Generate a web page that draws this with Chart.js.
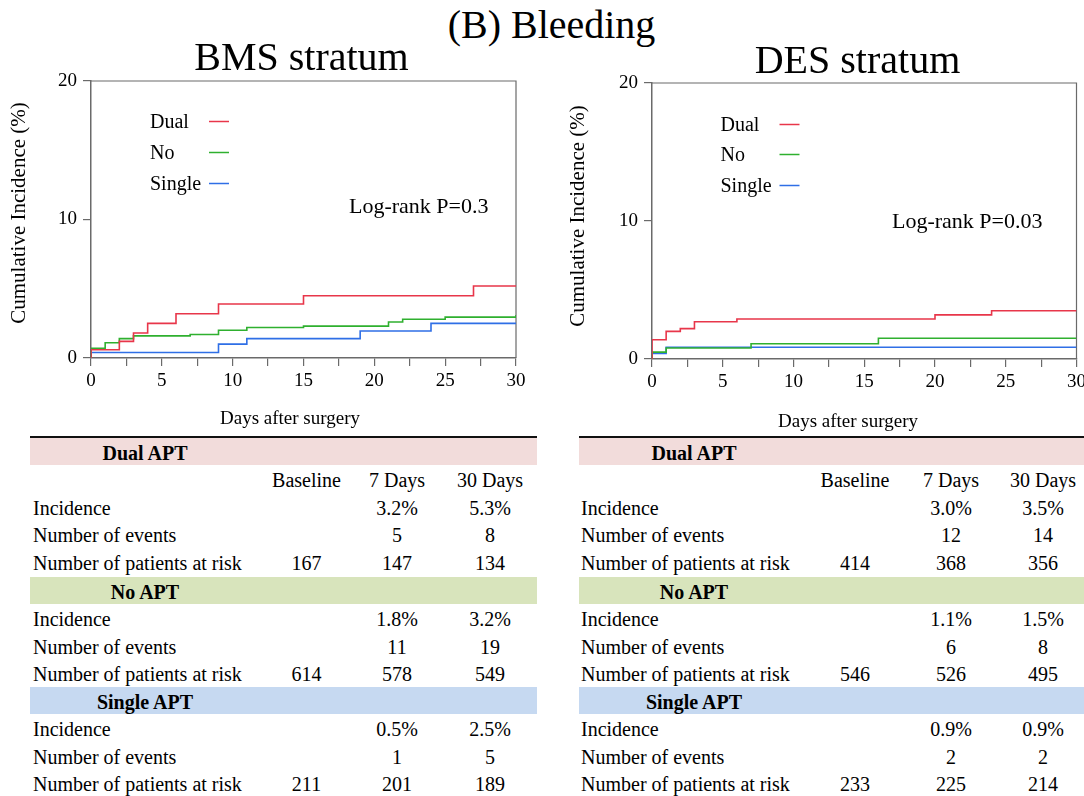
<!DOCTYPE html>
<html>
<head>
<meta charset="utf-8">
<script src="https://cdn.jsdelivr.net/npm/chart.js@4.4.1/dist/chart.umd.min.js"></script>
<style>
  html, body { margin: 0; padding: 0; background: #fff; }
  body { width: 1084px; height: 796px; position: relative; overflow: hidden;
         font-family: "Liberation Serif", "Times New Roman", serif; color: #000; }
  .txt { position: absolute; white-space: nowrap; }
  canvas { position: absolute; }
  .bar { position: absolute; height: 27px; }
  .rule { position: absolute; height: 2.5px; background: #111; }
</style>
</head>
<body>
<canvas id="bms" width="540" height="380" style="left:0px;top:60px;width:540px;height:380px"></canvas>
<canvas id="des" width="524" height="380" style="left:560px;top:60px;width:524px;height:380px"></canvas>
<div id="overlay"></div>
<script>
// ---------------- DATA ----------------
const mainTitle = '(B) Bleeding';
const panelTitles = ['BMS stratum', 'DES stratum'];
const seriesNames = ['Dual', 'No', 'Single'];
const xTickLabels = ['0', '5', '10', '15', '20', '25', '30'];
const yTickLabels = ['0', '10', '20'];
const xAxisTitle = 'Days after surgery';
const yAxisTitle = 'Cumulative Incidence (%)';
const pValues = ['Log-rank P=0.3', 'Log-rank P=0.03'];

// BMS stratum step curves (day of step, cumulative incidence %)
const bmsDualDays   = [0, 0,   2,   3,   4,   6,   9,   15,  27,  30];
const bmsDualInc    = [0, 0.6, 1.2, 1.8, 2.5, 3.2, 3.9, 4.5, 5.2, 5.2];
const bmsNoDays     = [0, 0,   1,   2,   3,   7,   9,   11,  15,  21,  22,  25,  30];
const bmsNoInc      = [0, 0.7, 1.1, 1.4, 1.6, 1.7, 2.0, 2.2, 2.3, 2.6, 2.8, 2.95, 3.1];
const bmsSingleDays = [0, 0,   9,   11,  19,  24,  30];
const bmsSingleInc  = [0, 0.4, 1.0, 1.4, 1.95, 2.5, 2.5];

// DES stratum step curves
const desDualDays   = [0, 0,   1,   2,   3,   6,   20,  24,  30];
const desDualInc    = [0, 1.4, 2.0, 2.2, 2.7, 2.9, 3.2, 3.5, 3.5];
const desNoDays     = [0, 0,   1,   7,   16,  30];
const desNoInc      = [0, 0.5, 0.8, 1.1, 1.5, 1.5];
const desSingleDays = [0, 0,   1,   30];
const desSingleInc  = [0, 0.4, 0.85, 0.85];

// Tables
const groupNames = ['Dual APT', 'No APT', 'Single APT'];
const colLabels = ['Baseline', '7 Days', '30 Days'];
const rowLabels = ['Incidence', 'Number of events', 'Number of patients at risk'];
const bmsIncidence = [['', '3.2%', '5.3%'], ['', '1.8%', '3.2%'], ['', '0.5%', '2.5%']];
const bmsEvents    = [['', '5', '8'],       ['', '11', '19'],     ['', '1', '5']];
const bmsAtRisk    = [['167', '147', '134'], ['614', '578', '549'], ['211', '201', '189']];
const desIncidence = [['', '3.0%', '3.5%'], ['', '1.1%', '1.5%'], ['', '0.9%', '0.9%']];
const desEvents    = [['', '12', '14'],     ['', '6', '8'],       ['', '2', '2']];
const desAtRisk    = [['414', '368', '356'], ['546', '526', '495'], ['233', '225', '214']];

// ---------------- STYLE ----------------
const SERIF = '"Liberation Serif", "Times New Roman", serif';
const colors = ['#e8364a', '#2fb02f', '#2f6fe6'];
const axisColor = '#6a6a6a';
const barColors = ['#f2dcdb', '#d8e4bc', '#c6d9f1'];

// ---------------- HTML TEXT ----------------
const overlay = document.getElementById('overlay');
function addText(text, x, baseline, size, opts = {}) {
  const d = document.createElement('div');
  d.className = 'txt';
  d.textContent = text;
  d.style.fontSize = size + 'px';
  d.style.lineHeight = size + 'px';
  d.style.top = (baseline - 0.8375 * size) + 'px';
  if (opts.bold) d.style.fontWeight = 'bold';
  d.style.left = x + 'px';
  if (opts.align === 'center') d.style.transform = 'translateX(-50%)';
  overlay.appendChild(d);
  return d;
}
function addBox(cls, x, y, w, h, color) {
  const d = document.createElement('div');
  d.className = cls;
  d.style.left = x + 'px'; d.style.top = y + 'px';
  d.style.width = w + 'px'; d.style.height = h + 'px';
  if (color) d.style.background = color;
  overlay.appendChild(d);
}

addText(mainTitle, 551.5, 38, 40, { align: 'center' });
addText(panelTitles[0], 301.5, 70.5, 40, { align: 'center' });
addText(panelTitles[1], 857.5, 73, 40, { align: 'center' });

function buildTable(x0, x1, labelX, groupCX, colCX, incid, events, atRisk) {
  addBox('rule', x0, 436, x1 - x0, 2.5);
  const barTops = [438, 577, 687];
  for (let g = 0; g < 3; g++) {
    const top = barTops[g];
    addBox('bar', x0, top, x1 - x0, 27, barColors[g]);
    addText(groupNames[g], groupCX, top + 22, 20, { bold: true, align: 'center' });
    let base = top + 27 + 22;
    if (g === 0) {
      colLabels.forEach((c, i) => addText(c, colCX[i], base, 20, { align: 'center' }));
      base += 27.6;
    }
    const rows = [incid[g], events[g], atRisk[g]];
    rows.forEach((vals, r) => {
      const b = base + r * 27.6;
      addText(rowLabels[r], labelX, b, 20);
      vals.forEach((v, i) => { if (v) addText(v, colCX[i], b, 20, { align: 'center' }); });
    });
  }
}
buildTable(30, 537, 33, 145, [306.5, 397, 490], bmsIncidence, bmsEvents, bmsAtRisk);
buildTable(579, 1084, 581, 694, [855, 951, 1043], desIncidence, desEvents, desAtRisk);

// ---------------- CHARTS ----------------
function toPoints(days, inc) { return days.map((d, i) => ({ x: d, y: inc[i] })); }

const decoPlugin = {
  id: 'kmDeco',
  beforeDatasetsDraw(chart) {
    const ca = chart.chartArea, ctx = chart.ctx;
    ctx.save();
    ctx.strokeStyle = axisColor;
    ctx.lineWidth = 1.2;
    ctx.beginPath();
    ctx.moveTo(ca.left, ca.top); ctx.lineTo(ca.right, ca.top); ctx.lineTo(ca.right, ca.bottom);
    ctx.stroke();
    ctx.restore();
  },
  afterDraw(chart, args, o) {
    const ctx = chart.ctx;
    ctx.save();
    ctx.fillStyle = '#000';
    ctx.textBaseline = 'alphabetic';
    // legend
    ctx.font = '20px ' + SERIF;
    ctx.textAlign = 'left';
    chart.data.datasets.forEach((ds, i) => {
      const by = o.legBase[i];
      ctx.fillStyle = '#000';
      ctx.fillText(ds.label, o.legX, by);
      ctx.strokeStyle = ds.borderColor;
      ctx.lineWidth = 1.5;
      ctx.beginPath();
      ctx.moveTo(o.legX + o.lineOff, by - 6.5);
      ctx.lineTo(o.legX + o.lineOff + 20, by - 6.5);
      ctx.stroke();
    });
    // p value
    ctx.font = '22px ' + SERIF;
    ctx.fillText(o.pText, o.pX, o.pY);
    // x title
    ctx.font = '19px ' + SERIF;
    ctx.textAlign = 'center';
    ctx.fillText(xAxisTitle, o.xtX, o.xtY);
    // y title
    ctx.save();
    ctx.translate(o.ytX, o.ytY);
    ctx.rotate(-Math.PI / 2);
    ctx.font = '21px ' + SERIF;
    ctx.textAlign = 'center';
    ctx.fillText(yAxisTitle, 0, 0);
    ctx.restore();
    ctx.restore();
  }
};

function makeChart(id, series, pad, yWidth, deco) {
  const datasets = series.map((s, i) => ({
    label: seriesNames[i],
    data: toPoints(s[0], s[1]),
    borderColor: colors[i],
    backgroundColor: colors[i],
    borderWidth: 1.6,
    stepped: 'before',
    pointRadius: 0,
    fill: false
  }));
  return new Chart(document.getElementById(id), {
    type: 'line',
    data: { datasets },
    plugins: [decoPlugin],
    options: {
      responsive: false,
      animation: false,
      devicePixelRatio: 1,
      layout: { padding: pad },
      plugins: { legend: { display: false }, tooltip: { enabled: false }, kmDeco: deco },
      scales: {
        x: {
          type: 'linear', min: 0, max: 30,
          afterBuildTicks(s) { s.ticks = []; for (let v = 0; v <= 30; v += 2.5) s.ticks.push({ value: v }); },
          ticks: {
            autoSkip: false, maxRotation: 0, padding: 4, color: '#000',
            font: { family: SERIF, size: 19 },
            callback(v) { const i = xTickLabels.indexOf(String(v)); return i >= 0 ? xTickLabels[i] : ''; }
          },
          grid: { drawOnChartArea: false, drawTicks: true, tickLength: 8, color: axisColor, lineWidth: 1.2 },
          border: { display: true, color: axisColor, width: 1.5 },
          afterFit(s) { s.height = 30; s.paddingLeft = 0; s.paddingRight = 0; }
        },
        y: {
          type: 'linear', min: 0, max: 20,
          afterBuildTicks(s) { s.ticks = yTickLabels.map(t => ({ value: Number(t) })); },
          ticks: {
            padding: 6, color: '#000',
            font: { family: SERIF, size: 19 },
            callback(v) { return String(v); }
          },
          grid: { drawOnChartArea: false, drawTicks: true, tickLength: 8, color: axisColor, lineWidth: 1.2 },
          border: { display: true, color: axisColor, width: 1.5 },
          afterFit(s) { s.width = yWidth; s.paddingTop = 0; s.paddingBottom = 0; }
        }
      }
    }
  });
}

// BMS canvas at page (0,60)
makeChart('bms',
  [[bmsDualDays, bmsDualInc], [bmsNoDays, bmsNoInc], [bmsSingleDays, bmsSingleInc]],
  { left: 0, right: 24, top: 21, bottom: 52 }, 91,
  { legX: 150, legBase: [68, 99, 130], lineOff: 59,
    pText: pValues[0], pX: 349, pY: 153,
    xtX: 290, xtY: 364, ytX: 24.5, ytY: 153 });

// DES canvas at page (560,60)
makeChart('des',
  [[desDualDays, desDualInc], [desNoDays, desNoInc], [desSingleDays, desSingleInc]],
  { left: 0, right: 7.5, top: 23, bottom: 51 }, 92,
  { legX: 160.5, legBase: [71, 101, 132], lineOff: 59,
    pText: pValues[1], pX: 332, pY: 168,
    xtX: 288, xtY: 366.7, ytX: 24, ytY: 156 });
</script>
</body>
</html>
